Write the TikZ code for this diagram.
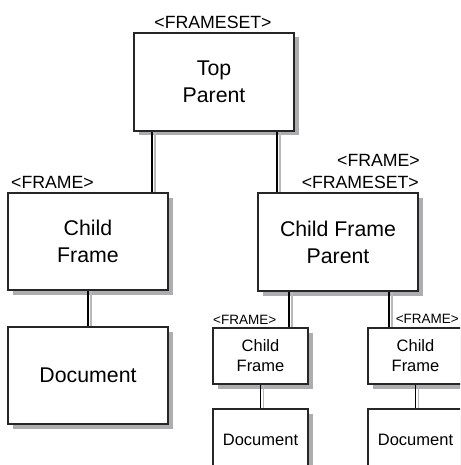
\documentclass[tikz,border=0pt]{standalone}
\usepackage{fontspec}
\setmainfont{Liberation Sans}
\usetikzlibrary{calc}
\definecolor{shadowgray}{rgb}{0.68,0.68,0.69}
\definecolor{linegray}{rgb}{0.72,0.72,0.73}
\tikzset{
  boxbase/.style={draw=black!85, line width=1.4pt, fill=white, inner sep=0pt, align=center},
  bigbox/.style={boxbase, minimum width=160pt, minimum height=98pt,
    font=\fontsize{21.3}{27}\selectfont},
  smallbox/.style={boxbase, minimum width=95pt, minimum height=56pt,
    font=\fontsize{16.5}{20}\selectfont},
  tagbig/.style={inner sep=0pt, font=\fontsize{17.7}{24}\selectfont},
  tagsmall/.style={inner sep=0pt, font=\fontsize{13.5}{16}\selectfont},
  link/.style={line width=1.4pt, black},
  linkshade/.style={line width=1.2pt, linegray},
  boxshade/.style={fill=shadowgray, draw=none},
}
\begin{document}
\begin{tikzpicture}[x=1pt, y=-1pt]
\useasboundingbox (0,0) rectangle (460,465);
\clip (0,0) rectangle (460,465);
% shadows
\fill[boxshade] (138.5,37.5) rectangle (298.5,135.5);
\fill[boxshade] (12.5,197.5) rectangle (172.5,294.5);
\fill[boxshade] (12.5,331.5) rectangle (172.5,428.5);
\fill[boxshade] (262.5,197.5) rectangle (422.5,295.5);
\fill[boxshade] (217.5,332.5) rectangle (312.5,388.5);
\fill[boxshade] (372.5,332.5) rectangle (467.5,388.5);
\fill[boxshade] (217.5,413.5) rectangle (312.5,474.5);
\fill[boxshade] (372.5,413.5) rectangle (467.5,474.5);
% boxes
\node[bigbox] (tp) at (214,82) {Top\\Parent};
\node[bigbox, minimum height=97pt] (cfl) at (88,241.5) {Child\\Frame};
\node[bigbox, minimum height=97pt] (docl) at (88,375.5) {Document};
\node[bigbox] (cfp) at (338,242) {Child Frame\\Parent};
\node[smallbox] (cfs1) at (260.5,356) {Child\\Frame};
\node[smallbox] (cfs2) at (415.5,356) {Child\\Frame};
\node[smallbox, minimum height=61pt] (doc1) at (260.5,439.5) {Document};
\node[smallbox, minimum height=61pt] (doc2) at (415.5,439.5) {Document};
% tags
\node[tagbig, anchor=base] (t1) at (213,29) {<FRAMESET>};
\node[tagbig, anchor=base west] (t2) at (11,188) {<FRAME>};
\node[tagbig, anchor=base east] (t3) at (420,166) {<FRAME>};
\node[tagbig, anchor=base east] (t4) at (419,188) {<FRAMESET>};
\node[tagsmall, anchor=base west] (t5) at (213,324) {<FRAME>};
\node[tagsmall, anchor=base east] (t6) at (459,323) {<FRAME>};
% connectors (shade line first, then black line)
\coordinate (ca) at ([xshift=-62pt]tp.south);
\coordinate (cb) at ([xshift=63pt]tp.south);
\coordinate (cc) at ([xshift=-49pt]cfp.south);
\coordinate (cd) at ([xshift=51pt]cfp.south);
\foreach \a/\b in {ca/cfl, cb/cfp, cc/cfs1, cd/cfs2} {
  \draw[linkshade] ([xshift=3pt]\a) -- ([xshift=3pt]\a |- \b.north);
  \draw[link] (\a) -- (\a |- \b.north);
}
\foreach \a/\b in {cfl/docl, cfs1/doc1, cfs2/doc2} {
  \draw[linkshade] ([xshift=3pt]\a.south) -- ([xshift=3pt]\a.south |- \b.north);
  \draw[link] (\a.south) -- (\a.south |- \b.north);
}
\end{tikzpicture}
\end{document}
